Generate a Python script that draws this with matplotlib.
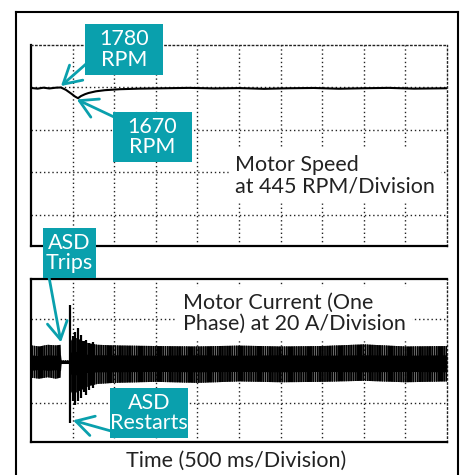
import matplotlib
matplotlib.use("Agg")
import matplotlib.pyplot as plt
from matplotlib.patches import Rectangle

plt.rcParams['font.family'] = ['Lato', 'DejaVu Sans']
plt.rcParams['hatch.linewidth'] = 1.1

# ---------------------------------------------------------------- data
# motor speed trace, time in s (500 ms/div), speed in RPM (445 RPM/div)
speed_t = [0.0, 0.08, 0.15, 0.22, 0.30, 0.36, 0.42, 0.48, 0.53, 0.565, 0.60, 0.65,
           0.69, 0.78, 0.89, 1.07, 1.3, 1.6, 1.9, 2.2, 2.5, 2.8, 3.1, 3.4, 3.7,
           4.0, 4.3, 4.6, 5.0]
speed_rpm = [1775, 1768, 1778, 1770, 1778, 1780, 1755, 1718, 1685, 1668, 1690, 1710,
             1722, 1740, 1752, 1762, 1768, 1772, 1776, 1770, 1774, 1766, 1772, 1775, 1767,
             1772, 1776, 1768, 1772]

# motor current, envelope of the (aliased) 60 Hz trace, amps (20 A/div)
cur_t = [0.0, 0.1, 0.2, 0.3, 0.355, 0.362, 0.462, 0.472, 0.50, 0.55, 0.60, 0.65, 0.70,
         0.80, 1.0, 1.5, 2.0, 2.5, 3.0, 3.5, 4.0, 4.5, 5.0]
cur_hi = [7.5, 7.0, 7.8, 7.5, 7.8, 0.3, 0.3, 9.0, 11.0, 11.0, 10.0, 9.0, 8.5,
          7.8, 7.5, 7.2, 7.0, 7.4, 7.0, 7.2, 8.0, 7.0, 7.2]
cur_lo = [-8.0, -8.5, -7.8, -8.5, -8.0, -1.2, -1.2, -14.0, -16.0, -15.0, -14.0, -13.0, -12.0,
          -11.0, -10.5, -10.0, -10.5, -9.8, -10.2, -10.0, -9.5, -10.2, -9.8]
core_hi = [3.0, 2.5, 3.0, 2.8, 3.0, 0.3, 0.3, 4.0, 5.0, 4.5, 4.0, 3.5, 3.0,
           3.0, 3.0, 2.8, 3.0, 2.8, 3.0, 2.8, 3.0, 2.8, 3.0]
core_lo = [-4.5, -4.0, -4.5, -4.2, -4.5, -1.2, -1.2, -6.0, -7.0, -6.5, -6.0, -5.5, -5.5,
           -5.2, -5.2, -5.0, -5.2, -5.0, -5.2, -5.0, -5.2, -5.0, -5.2]
# restart transient spikes
spike_t = [0.472, 0.50, 0.53, 0.565, 0.60, 0.635, 0.66, 0.70, 0.745]
spike_hi = [26.9, 12.0, 14.0, 15.8, 12.5, 9.5, 10.0, 8.5, 9.0]
spike_lo = [-29.8, -19.0, -21.0, -19.0, -17.8, -15.0, -16.3, -14.0, -13.0]

teal = '#0aa0ad'
W, H = 461, 475
FS = 15.5

fig = plt.figure(figsize=(W / 100, H / 100), dpi=100)
fig.patch.set_facecolor('white')


def px_axes(x0, y0, x1, y1):
    return fig.add_axes([x0 / W, 1 - y1 / H, (x1 - x0) / W, (y1 - y0) / H])


def scope_style(ax, solid):
    ax.set_xlim(0, 5)
    ax.set_xticks([0.5 * i for i in range(1, 10)])
    ax.tick_params(length=0, labelbottom=False, labelleft=False)
    ax.grid(True, color='#222222', linestyle=(0, (1, 2)), linewidth=1.0)
    for side, sp in ax.spines.items():
        if side in solid:
            sp.set_linewidth(1.6)
            sp.set_color('black')
        else:
            sp.set_linestyle((0, (1, 2)))
            sp.set_linewidth(1.0)
            sp.set_color('#222222')


# ---------------------------------------------------------------- top: speed
ax1 = px_axes(31, 45, 447, 246)
scope_style(ax1, ['left', 'bottom'])
ax1.set_ylim(120, 2225)
ax1.set_yticks([445, 890, 1335, 1780])
ax1.plot(speed_t, speed_rpm, color='black', lw=1.5, zorder=3)
ax1.text(0.49, 0.35, 'Motor Speed\nat 445 RPM/Division', transform=ax1.transAxes,
         fontsize=FS, color='#222222', ha='left', va='center', linespacing=1.1,
         backgroundcolor='white', zorder=4)

# ---------------------------------------------------------------- bottom: current
ax2 = px_axes(31, 279, 447, 442)
scope_style(ax2, ['left', 'bottom', 'top'])
ax2.set_ylim(-38.9, 39.4)
ax2.set_yticks([-20, 0, 20])
# two hatch densities on top of each other give the aliased look of the scope trace
for h in ['||||||||', '|||||||']:
    ax2.fill_between(cur_t, cur_lo, cur_hi, facecolor='none', edgecolor='black',
                     linewidth=0, hatch=h, zorder=3)
ax2.fill_between(cur_t, core_lo, core_hi, color='black', linewidth=0, zorder=3)
ax2.vlines(spike_t, spike_lo, spike_hi, color='black', lw=1.6, zorder=3)
ax2.text(0.365, 0.79, 'Motor Current (One\nPhase) at 20 A/Division', transform=ax2.transAxes,
         fontsize=FS, color='#222222', ha='left', va='center', linespacing=1.1,
         backgroundcolor='white', zorder=4)

# ---------------------------------------------------------------- overlay: frame, callouts
ov = fig.add_axes([0, 0, 1, 1], zorder=10)
ov.set_xlim(0, W)
ov.set_ylim(H, 0)
ov.axis('off')
ov.patch.set_alpha(0)

for xs, ys in [([16, 16], [H, 12]), ([16, 458], [12, 12]), ([458, 458], [12, H])]:
    ov.plot(xs, ys, color='black', lw=1.5, solid_capstyle='projecting')

ov.text(236, 461, 'Time (500 ms/Division)', fontsize=FS, color='#222222',
        ha='center', va='center')

callouts = [
    # label, box (x0, y0, x1, y1) px, arrow start px, target axes, target data
    ('1780\nRPM', (85, 24, 163, 75), (86, 64), ax1, (0.36, 1795)),
    ('1670\nRPM', (113, 112, 192, 162), (114, 117), ax1, (0.55, 1655)),
    ('ASD\nTrips', (43, 228, 96, 278), (49, 277), ax2, (0.36, 9.0)),
    ('ASD\nRestarts', (110, 388, 188, 438), (111, 431), ax2, (0.505, -28.5)),
]
for label, (x0, y0, x1, y1), start, tax, tgt in callouts:
    ov.annotate('', xy=tgt, xycoords=tax.transData, xytext=start, textcoords='data',
                arrowprops=dict(arrowstyle='->,head_length=0.7,head_width=0.4',
                                color=teal, lw=2.0, mutation_scale=18,
                                shrinkA=0, shrinkB=0))
    ov.add_patch(Rectangle((x0, y0), x1 - x0, y1 - y0, facecolor=teal,
                           edgecolor='none', zorder=5))
    ov.text((x0 + x1) / 2, (y0 + y1) / 2, label, color='white', fontsize=FS,
            ha='center', va='center', linespacing=1.05, zorder=6)

fig.savefig('out.png', dpi=100)
